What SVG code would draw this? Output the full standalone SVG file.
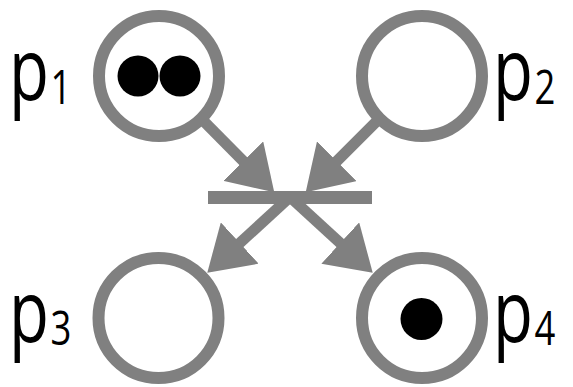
<svg xmlns="http://www.w3.org/2000/svg" width="573" height="387" viewBox="0 0 573 387">
  <style>
    .place { fill: #ffffff; stroke: #808080; stroke-width: 12; }
    .token { fill: #000000; }
    .bar { fill: #808080; }
    .arc { stroke: #808080; stroke-width: 11; fill: none; marker-end: url(#head); }
    .lbl { font-family: "Open Sans", "Liberation Sans", sans-serif; font-weight: 400; fill: #000000; }
    .main { font-size: 86px; }
    .sub { font-size: 48px; }
  </style>
  <defs>
    <marker id="head" markerUnits="userSpaceOnUse" viewBox="0 -28 44 56" refX="1" refY="0" markerWidth="44" markerHeight="56" orient="auto">
      <path d="M0,-28 L44,0 L0,28 Z" fill="#808080"/>
    </marker>
  </defs>
  <rect width="573" height="387" fill="#ffffff"/>
  <g id="connectors">
    <line class="arc" x1="201.2" y1="118.6" x2="244" y2="161.8"/>
    <line class="arc" x1="379.6" y1="118.4" x2="336.1" y2="161.9"/>
    <line class="arc" x1="290" y1="197" x2="239" y2="243.7"/>
    <line class="arc" x1="290" y1="197" x2="341" y2="243.7"/>
  </g>
  <g id="t1">
    <rect class="bar" x="208" y="191" width="164" height="13"/>
  </g>
  <g id="p1">
    <circle class="place" cx="159" cy="76" r="60"/>
    <circle class="token" cx="138" cy="76" r="20.5"/>
    <circle class="token" cx="180" cy="76" r="20.5"/>
    <text class="lbl" transform="translate(9,100) scale(0.76,1)"><tspan class="main">p</tspan><tspan class="sub" dx="2" dy="4">1</tspan></text>
  </g>
  <g id="p2">
    <circle class="place" cx="422" cy="76" r="60"/>
    <text class="lbl" transform="translate(493,100) scale(0.76,1)"><tspan class="main">p</tspan><tspan class="sub" dx="2" dy="4">2</tspan></text>
  </g>
  <g id="p3">
    <circle class="place" cx="158.5" cy="318" r="60"/>
    <text class="lbl" transform="translate(9,342) scale(0.76,1)"><tspan class="main">p</tspan><tspan class="sub" dx="2" dy="3">3</tspan></text>
  </g>
  <g id="p4">
    <circle class="place" cx="422" cy="318" r="60"/>
    <circle class="token" cx="421.5" cy="319" r="21"/>
    <text class="lbl" transform="translate(493,342) scale(0.76,1)"><tspan class="main">p</tspan><tspan class="sub" dx="2" dy="3">4</tspan></text>
  </g>
</svg>
